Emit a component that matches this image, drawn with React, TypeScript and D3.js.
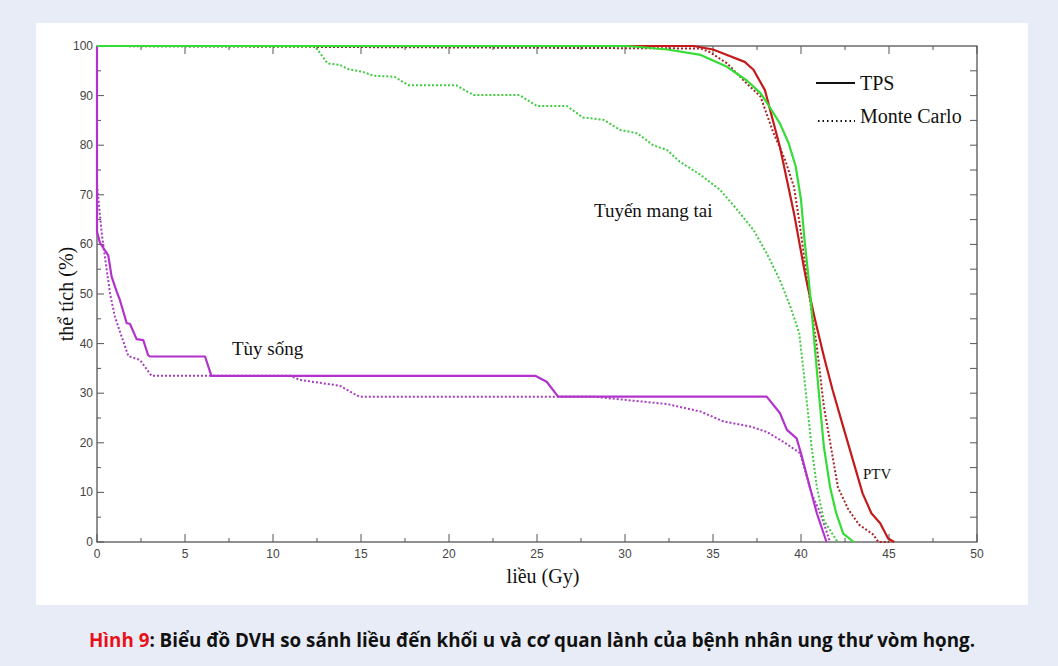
import * as d3 from "d3";

// DVH curves: [dose (Gy), volume (%)]
const cordTps: [number, number][] = [[0,100],[0,62.6],[0.17,60.3],[0.64,57.8],[0.83,53.5],[1.12,50.5],[1.3,48.8],[1.69,44.1],[1.87,44],[2.25,40.9],[2.63,40.7],[2.9,37.7],[3.0,37.4],[6.14,37.4],[6.5,33.5],[24.9,33.5],[25.55,32.3],[26.2,29.3],[38.05,29.3],[38.8,26],[39.2,22.6],[39.75,20.9],[40.0,17.9],[40.5,11.1],[40.9,5.8],[41.45,0]];
const cordMc: [number, number][] = [[0,72],[0.27,62.2],[0.45,57.5],[0.74,50.1],[1.02,45.4],[1.4,41.4],[1.78,37.5],[2.44,36.7],[3.1,33.5],[11.0,33.5],[11.5,32.7],[13.8,31.5],[14.9,29.3],[28.2,29.3],[30.45,28.5],[32.4,27.8],[34.3,26.3],[35.6,24.3],[37.1,23.3],[38.05,22.2],[39.0,20.2],[39.95,17.9],[40.6,9.8],[41.1,5.8],[41.65,0]];
const parotidTps: [number, number][] = [[0,100],[30,100],[30.5,99.9],[32.4,99.3],[34.3,98.2],[35.8,95.8],[36.9,93.1],[37.7,90.5],[38.2,87.8],[38.8,84.4],[39.3,80.4],[39.7,75.7],[40.0,69],[40.2,60.9],[40.4,54.2],[40.55,48.8],[40.7,42.7],[41.0,30.6],[41.3,19.2],[41.65,11.1],[42.0,5.8],[42.4,1.7],[43.0,0]];
const parotidMc: [number, number][] = [[0,100],[12.4,99.9],[13.1,96.5],[13.8,96.2],[14.3,95.3],[15.1,94.8],[15.7,94],[16.9,93.8],[17.7,92.1],[20.4,92.1],[21.4,90.1],[24.0,90.1],[25.0,87.9],[26.7,87.9],[27.6,85.6],[28.8,85.1],[29.7,83.1],[30.7,82.4],[31.6,80],[32.4,79],[33.1,76.7],[34.3,74],[35.4,71],[36.3,67.3],[37.3,62.9],[38.05,58.2],[38.8,52.8],[39.4,47.4],[39.9,42.1],[40.2,32.7],[40.6,19.2],[40.9,11.1],[41.3,4.4],[42.0,0.4],[42.1,0]];
const ptvTps: [number, number][] = [[0,100],[33.9,100],[35.0,99.3],[35.8,98.2],[36.8,96.8],[37.3,95.2],[37.95,91.1],[38.3,86.4],[38.8,79.7],[39.2,73],[39.6,66.3],[39.95,59.5],[40.3,52.8],[40.8,44.8],[41.3,37.4],[41.8,30.6],[42.4,23.2],[43.0,15.9],[43.5,9.8],[44.0,5.8],[44.5,3.8],[44.95,0.7],[45.3,0]];
const ptvMc: [number, number][] = [[0,100],[34.3,99.5],[34.8,98.8],[35.8,96.5],[36.9,92.5],[37.7,89.8],[38.4,82.8],[39.1,77],[39.6,71.6],[39.95,63.6],[40.25,55.5],[40.5,49],[40.9,39.4],[41.3,27.3],[41.7,19.2],[42.1,11],[42.7,6.5],[43.3,3.5],[44.1,1.5],[44.4,0],[45,0]];

const xTicks = [0, 5, 10, 15, 20, 25, 30, 35, 40, 45, 50];
const yTicks = [0, 10, 20, 30, 40, 50, 60, 70, 80, 90, 100];

const W = 1058, H = 666;
const x = d3.scaleLinear().domain([0, 50]).range([97, 977]);
const y = d3.scaleLinear().domain([0, 100]).range([542, 46]);
const line = d3.line<[number, number]>().x(d => x(d[0])).y(d => y(d[1]));

const series = [
  { data: ptvMc, color: "#a82424", dash: "2,2" },
  { data: ptvTps, color: "#c41a1a", dash: null },
  { data: cordMc, color: "#a83cc0", dash: "2,2" },
  { data: cordTps, color: "#b233cc", dash: null },
  { data: parotidMc, color: "#3fcc3f", dash: "2,2" },
  { data: parotidTps, color: "#33dd33", dash: null },
];

const axisColor = "#555";
const tickFont = "'Liberation Sans', Arial, sans-serif";
const serif = "'Liberation Serif', 'Times New Roman', serif";

export default function App() {
  const minorX = d3.range(2.5, 50, 5);
  const minorY = d3.range(5, 100, 10);
  const rightY = d3.range(5, 100, 5);
  return (
    <svg width={W} height={H} style={{ position: "absolute", left: 0, top: 0 }}>
      <rect x={0} y={0} width={W} height={H} fill="#e8ecf6" />
      <rect x={36} y={23} width={992} height={582} fill="#fff" />

      {/* frame */}
      <rect x={x(0)} y={y(100)} width={x(50) - x(0)} height={y(0) - y(100)} fill="none" stroke={axisColor} strokeWidth={1.3} />

      {/* bottom + top ticks */}
      {xTicks.map(t => (
        <g key={"xt" + t}>
          <line x1={x(t)} x2={x(t)} y1={y(0)} y2={y(0) - 8} stroke={axisColor} />
          <line x1={x(t)} x2={x(t)} y1={y(100)} y2={y(100) + 8} stroke={axisColor} />
          <text x={x(t)} y={y(0) + 16} textAnchor="middle" fontFamily={tickFont} fontSize={12} fill="#444">{t}</text>
        </g>
      ))}
      {minorX.map(t => (
        <g key={"xm" + t}>
          <line x1={x(t)} x2={x(t)} y1={y(0)} y2={y(0) - 4} stroke={axisColor} />
          <line x1={x(t)} x2={x(t)} y1={y(100)} y2={y(100) + 4} stroke={axisColor} />
        </g>
      ))}

      {/* left + right ticks */}
      {yTicks.map(t => (
        <g key={"yt" + t}>
          <line x1={x(0)} x2={x(0) + 7} y1={y(t)} y2={y(t)} stroke={axisColor} />
          <text x={x(0) - 4} y={y(t) + 4} textAnchor="end" fontFamily={tickFont} fontSize={12} fill="#444">{t}</text>
        </g>
      ))}
      {minorY.map(t => (
        <line key={"ym" + t} x1={x(0)} x2={x(0) + 4} y1={y(t)} y2={y(t)} stroke={axisColor} />
      ))}
      {rightY.map(t => (
        <line key={"yr" + t} x1={x(50)} x2={x(50) - 7} y1={y(t)} y2={y(t)} stroke={axisColor} />
      ))}

      {/* curves */}
      {series.map((s, i) => (
        <path key={i} d={line(s.data) || ""} fill="none" stroke={s.color} strokeWidth={s.dash ? 2 : 2.2}
          strokeDasharray={s.dash || undefined} strokeLinejoin="round" />
      ))}

      {/* annotations */}
      <text x={594} y={217} fontFamily={serif} fontSize={19} fill="#111">Tuyến mang tai</text>
      <text x={232} y={355} fontFamily={serif} fontSize={19} fill="#111">Tùy sống</text>
      <text x={863} y={479} fontFamily={serif} fontSize={15} fill="#111">PTV</text>

      {/* legend */}
      <line x1={816} x2={855} y1={83} y2={83} stroke="#111" strokeWidth={2.2} />
      <text x={860} y={90} fontFamily={serif} fontSize={20} fill="#111">TPS</text>
      <line x1={818} x2={855} y1={121} y2={121} stroke="#111" strokeWidth={1.8} strokeDasharray="1.5,3" />
      <text x={860} y={123} fontFamily={serif} fontSize={20} fill="#111">Monte Carlo</text>

      {/* axis titles */}
      <text x={543} y={583} textAnchor="middle" fontFamily={serif} fontSize={20} fill="#111">liều (Gy)</text>
      <text transform="translate(73,294) rotate(-90)" textAnchor="middle" fontFamily={serif} fontSize={20} fill="#111">thể tích (%)</text>

      {/* caption */}
      <text x={89} y={647} fontFamily="'Open Sans', 'Noto Sans', sans-serif" fontWeight="bold" fontSize={19}
        textLength={886} lengthAdjust="spacingAndGlyphs" fill="#111">
        <tspan fill="#e8111a">Hình 9</tspan>: Biểu đồ DVH so sánh liều đến khối u và cơ quan lành của bệnh nhân ung thư vòm họng.
      </text>
    </svg>
  );
}
